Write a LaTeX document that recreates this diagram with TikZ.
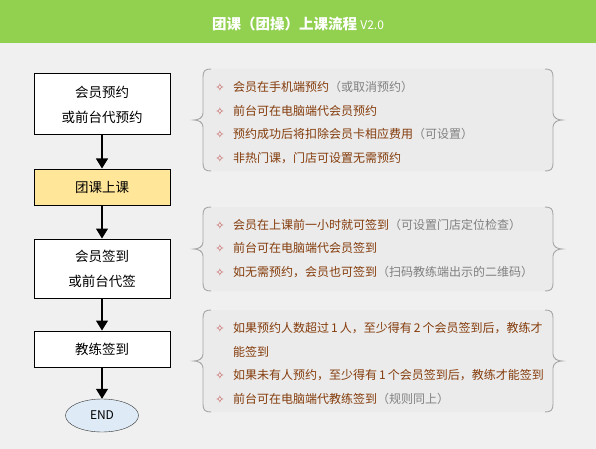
\documentclass[tikz,border=0pt]{standalone}
\usepackage{fontspec}
\setmainfont{Noto Sans CJK SC}
\newfontfamily\dingfont{DejaVu Sans}
\usetikzlibrary{arrows.meta,shapes.geometric}

\definecolor{headgreen}{HTML}{92D050}
\definecolor{pagegray}{HTML}{F0F0F0}
\definecolor{notefill}{HTML}{EBEBEB}
\definecolor{bracegray}{HTML}{A6A6A6}
\definecolor{notebrown}{HTML}{843C0C}
\definecolor{notegray}{HTML}{808080}
\definecolor{bulletred}{HTML}{C0504D}
\definecolor{stepyellow}{HTML}{FFE699}
\definecolor{endblue}{HTML}{DEEAF6}

\begin{document}
\begin{tikzpicture}[x=1pt,y=-1pt,
    flowbox/.style={draw=black, line width=1pt, fill=white, minimum width=136pt,
      align=center, font=\fontsize{13.5}{25}\selectfont},
    flowarrow/.style={line width=1.1pt, -{Triangle[width=12pt,length=10pt]}},
    bullet/.style={inner sep=0pt, text=bulletred, font=\dingfont\fontsize{11}{12}\selectfont},
    note/.style={anchor=west, inner sep=0pt, text=notebrown, font=\fontsize{12}{14}\selectfont}]
  \useasboundingbox (0,0) rectangle (596,449);

  % Background and header
  \fill[pagegray] (0,0) rectangle (596,449);
  \fill[headgreen] (0,0) rectangle (596,43);
  \node[text=white, font=\bfseries\fontsize{14.5}{16}\selectfont] (title) at (298,24)
    {团课（团操）上课流程 {\mdseries\fontsize{12}{14}\selectfont V2.0}};

  % Flow on the left
  \node[flowbox, minimum height=61pt] (book) at (102,104.5) {会员预约\\或前台代预约};
  \node[flowbox, minimum height=36pt, fill=stepyellow] (class) at (102,187) {团课上课};
  \node[flowbox, minimum height=59pt] (signin) at (102,268.5) {会员签到\\或前台代签};
  \node[flowbox, minimum height=36pt] (coach) at (102,349) {教练签到};
  \node[draw=black!80, ellipse, fill=endblue, minimum width=73pt, minimum height=33pt,
    inner sep=0pt, font=\fontsize{12}{14}\selectfont] (end) at (102,415.5) {END};

  \draw[flowarrow] (book) -- (class);
  \draw[flowarrow] (class) -- (signin);
  \draw[flowarrow] (signin) -- (coach);
  \draw[flowarrow] (coach) -- (end);

  % Brace boxes on the right
  \foreach \t/\b in {69/171, 207/291, 310/412} {
    \pgfmathsetmacro\m{(\t+\b)/2}
    \fill[notefill] (211,\t) -- (545,\t)
      .. controls (551,\t) and (553,\t+2) .. (553,\t+8) -- (553,\m-7)
      .. controls (553,\m-2) and (558,\m) .. (562,\m)
      .. controls (558,\m) and (553,\m+2) .. (553,\m+7) -- (553,\b-8)
      .. controls (553,\b-2) and (551,\b) .. (545,\b) -- (211,\b)
      .. controls (205,\b) and (203,\b-2) .. (203,\b-8) -- (203,\m+7)
      .. controls (203,\m+2) and (198,\m) .. (194,\m)
      .. controls (198,\m) and (203,\m-2) .. (203,\m-7) -- (203,\t+8)
      .. controls (203,\t+2) and (205,\t) .. (211,\t) -- cycle;
    \draw[bracegray, line width=0.9pt] (211,\t)
      .. controls (205,\t) and (203,\t+2) .. (203,\t+8) -- (203,\m-7)
      .. controls (203,\m-2) and (198,\m) .. (194,\m)
      .. controls (198,\m) and (203,\m+2) .. (203,\m+7) -- (203,\b-8)
      .. controls (203,\b-2) and (205,\b) .. (211,\b);
    \draw[bracegray, line width=0.9pt] (545,\t)
      .. controls (551,\t) and (553,\t+2) .. (553,\t+8) -- (553,\m-7)
      .. controls (553,\m-2) and (558,\m) .. (562,\m)
      .. controls (558,\m) and (553,\m+2) .. (553,\m+7) -- (553,\b-8)
      .. controls (553,\b-2) and (551,\b) .. (545,\b);
  }

  % Notes for booking
  \foreach \y/\txt in {87/{会员在手机端预约\textcolor{notegray}{（或取消预约）}},
      111/{前台可在电脑端代会员预约},
      134/{预约成功后将扣除会员卡相应费用\textcolor{notegray}{（可设置）}},
      158/{非热门课，门店可设置无需预约}} {
    \node[bullet] (dot\y) at (220,\y) {✧};
    \node[note] (note\y) at (233,\y) {\txt};
  }

  % Notes for member sign-in
  \foreach \y/\txt in {225/{会员在上课前一小时就可签到\textcolor{notegray}{（可设置门店定位检查）}},
      248/{前台可在电脑端代会员签到},
      272/{如无需预约，会员也可签到\textcolor{notegray}{（扫码教练端出示的二维码）}}} {
    \node[bullet] (dot\y) at (220,\y) {✧};
    \node[note] (note\y) at (233,\y) {\txt};
  }

  % Notes for coach sign-in
  \foreach \y/\txt in {328/{如果预约人数超过\,1\,人，至少得有\,2\,个会员签到后，教练才},
      375/{如果未有人预约，至少得有\,1\,个会员签到后，教练才能签到},
      399/{前台可在电脑端代教练签到\textcolor{notegray}{（规则同上）}}} {
    \node[bullet] (dot\y) at (220,\y) {✧};
    \node[note] (note\y) at (233,\y) {\txt};
  }
  \node[note] (note352) at (233,352) {能签到};
\end{tikzpicture}
\end{document}
